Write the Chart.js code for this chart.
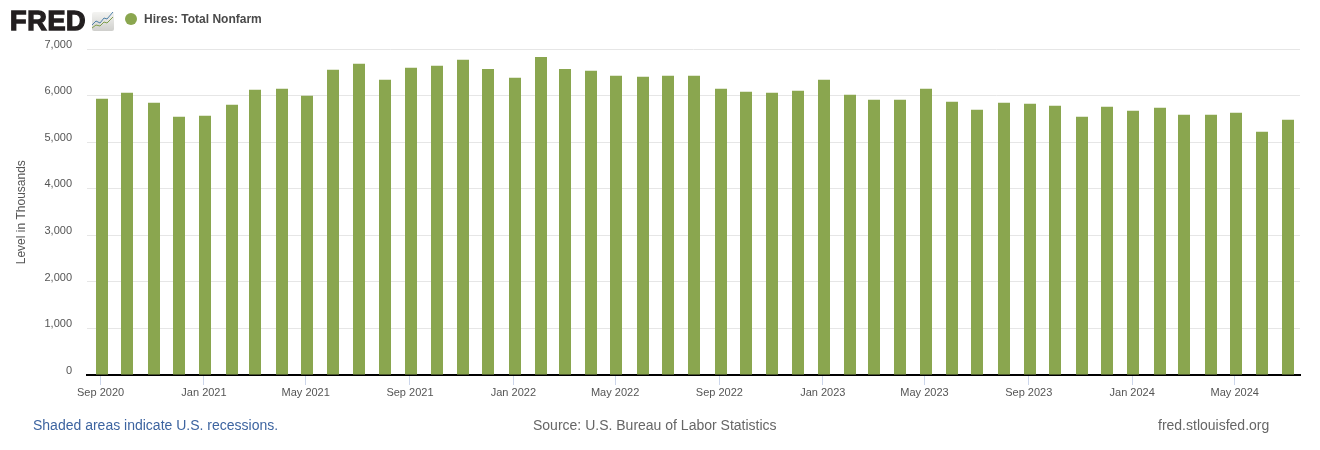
<!DOCTYPE html>
<html>
<head>
<meta charset="utf-8">
<script src="https://cdn.jsdelivr.net/npm/chart.js@4"></script>
<style>
  html, body { margin: 0; padding: 0; background: #fff; }
  body { position: relative; width: 1320px; height: 450px; overflow: hidden; font-family: "Liberation Sans", sans-serif; }
  #c { position: absolute; left: 0; top: 0; }
  .txt { position: absolute; white-space: nowrap; }
  #logo { left: 10px; top: 6px; line-height: 30px; font-size: 27px; font-weight: bold; color: #231f20; letter-spacing: 0.7px; -webkit-text-stroke: 1.4px #231f20; }
  #icon { position: absolute; left: 92px; top: 12px; }
  #dot { position: absolute; left: 125px; top: 13px; width: 12px; height: 12px; border-radius: 50%; background: #8aa64f; }
  #leg { left: 144px; top: 12px; font-size: 12px; font-weight: bold; color: #4a4a4a; }
  .foot { top: 417px; font-size: 14px; }
</style>
</head>
<body>
<canvas id="c" width="1320" height="450"></canvas>
<div class="txt" id="logo">FRED</div>
<svg id="icon" width="22" height="19" viewBox="0 0 22 19">
  <defs><linearGradient id="g" x1="0" y1="0" x2="0" y2="1"><stop offset="0" stop-color="#f4f4f2"/><stop offset="1" stop-color="#cfcfcc"/></linearGradient></defs>
  <rect x="0" y="0" width="22" height="19" rx="2" fill="url(#g)"/>
  <polyline points="0,13 4,9 8,11 12,6 15,7 21,0" fill="none" stroke="#4f81a8" stroke-width="1"/>
  <polyline points="0,16 4,13 8,14 12,10 15,11 21,5" fill="none" stroke="#7f9f4c" stroke-width="1"/>
</svg>
<div id="dot"></div>
<div class="txt" id="leg">Hires: Total Nonfarm</div>
<div class="txt foot" style="left:33px;color:#3d64a0">Shaded areas indicate U.S. recessions.</div>
<div class="txt foot" style="left:533px;color:#666">Source: U.S. Bureau of Labor Statistics</div>
<div class="txt foot" style="left:1158px;color:#666">fred.stlouisfed.org</div>
<script>
var monthNames = ["Jan","Feb","Mar","Apr","May","Jun","Jul","Aug","Sep","Oct","Nov","Dec"];

var months = [
  "2020-09","2020-10","2020-11","2020-12",
  "2021-01","2021-02","2021-03","2021-04","2021-05","2021-06","2021-07","2021-08","2021-09","2021-10","2021-11","2021-12",
  "2022-01","2022-02","2022-03","2022-04","2022-05","2022-06","2022-07","2022-08","2022-09","2022-10","2022-11","2022-12",
  "2023-01","2023-02","2023-03","2023-04","2023-05","2023-06","2023-07","2023-08","2023-09","2023-10","2023-11","2023-12",
  "2024-01","2024-02","2024-03","2024-04","2024-05","2024-06","2024-07"
];
var hires = [
  5937,6066,5851,5551,5572,5808,6131,6152,6002,6560,6689,6345,
  6603,6646,6775,6581,6388,6839,6581,6539,6431,6410,6431,6431,
  6152,6088,6066,6109,6345,6023,5916,5916,6152,5873,5701,5851,
  5830,5787,5551,5766,5680,5744,5594,5594,5637,5229,5486
];
var tickMonths = ["2020-09","2021-01","2021-05","2021-09","2022-01","2022-05","2022-09","2023-01","2023-05","2023-09","2024-01","2024-05"];
var yTicks = [0,1000,2000,3000,4000,5000,6000,7000];

// days since Sep 2020, no date adapter here so x is just a number
function toDays(m) {
  var p = m.split("-");
  return (Date.UTC(+p[0], +p[1] - 1, 1) - Date.UTC(2020, 8, 1)) / 86400000;
}
function labelFor(d) {
  var dt = new Date(Date.UTC(2020, 8, 1) + d * 86400000);
  return monthNames[dt.getUTCMonth()] + " " + dt.getUTCFullYear();
}

// keep bar edges on whole pixels like the original
var snapBars = {
  id: "snapBars",
  beforeDatasetsDraw: function (chart) {
    chart.getDatasetMeta(0).data.forEach(function (b) { b.x = Math.round(b.x); });
  }
};

new Chart(document.getElementById("c"), {
  type: "bar",
  plugins: [snapBars],
  data: {
    datasets: [{
      label: "Hires: Total Nonfarm",
      backgroundColor: "#8aa64f",
      barThickness: 12,
      inflateAmount: 0,
      // bars sit a little after the 1st of the month
      data: months.map(function (m, i) { return { x: toDays(m) + 1.5, y: hires[i] }; })
    }]
  },
  options: {
    responsive: false,
    animation: false,
    layout: { padding: { top: 49.4, right: 20, left: 0, bottom: 0 } },
    plugins: { legend: { display: false }, title: { display: false }, tooltip: { enabled: false } },
    scales: {
      x: {
        type: "linear",
        min: -16,
        max: 1415,
        offset: false,
        afterBuildTicks: function (s) { s.ticks = tickMonths.map(function (m) { return { value: toDays(m) }; }); },
        afterFit: function (s) { s.height = 75; },
        border: { color: "#000", width: 2 },
        grid: { offset: false, drawOnChartArea: false, drawTicks: true, tickLength: 10, tickColor: "#ccd6eb" },
        ticks: {
          autoSkip: false, maxRotation: 0, padding: 1, color: "#555",
          font: { family: "Liberation Sans", size: 11 },
          callback: function (v) { return labelFor(v); }
        }
      },
      y: {
        min: 0,
        max: 7000,
        afterBuildTicks: function (s) { s.ticks = yTicks.map(function (v) { return { value: v }; }); },
        afterFit: function (s) { s.width = 87; },
        border: { display: false },
        grid: { color: "#e6e6e6", drawTicks: false },
        title: { display: true, text: "Level in Thousands", color: "#555", font: { family: "Liberation Sans", size: 12 }, padding: { top: 14, bottom: 0 } },
        ticks: {
          padding: 15, color: "#555", labelOffset: -4.5,
          font: { family: "Liberation Sans", size: 11 },
          callback: function (v) { return v.toLocaleString("en-US"); }
        }
      }
    }
  }
});
</script>
</body>
</html>
